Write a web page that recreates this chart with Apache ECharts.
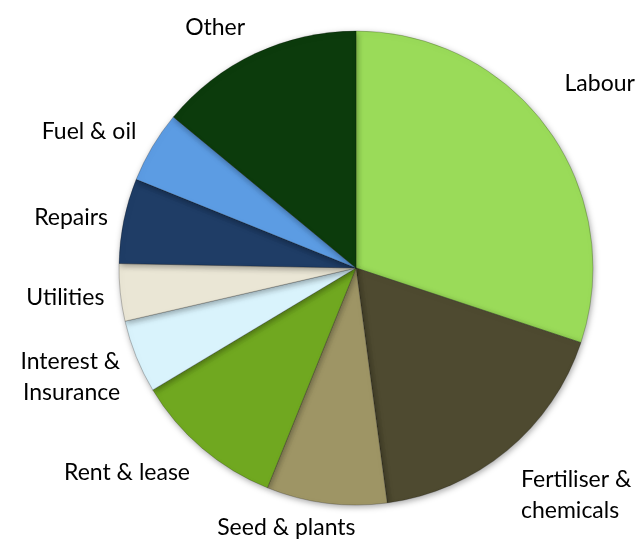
<!DOCTYPE html>
<html>
<head>
<meta charset="utf-8">
<script src="https://cdn.jsdelivr.net/npm/echarts@6/dist/echarts.min.js"></script>
<style>
  html, body { margin: 0; padding: 0; background: #fff; }
  #chart { width: 640px; height: 541px; }
</style>
</head>
<body>
<div id="chart"></div>
<script>
// cost categories, clockwise from 12 o'clock
const names = ['Labour', 'Fertiliser &\nchemicals', 'Seed & plants', 'Rent & lease',
  'Interest &\nInsurance', 'Utilities', 'Repairs', 'Fuel & oil', 'Other']
// share of costs (%)
const shares = [30.1, 17.8, 8.2, 10.3, 5.0, 3.9, 5.8, 4.9, 14.0]
const colors = ['#9ADB59', '#4E4A30', '#9E9565', '#70A820', '#D9F3FC',
  '#EAE6D5', '#1F3D66', '#5C9CE3', '#0C3B0C']

const chart = echarts.init(document.getElementById('chart'))

// nudge labels the way the original "best fit" placed them
const nudge = {
  0: { dx: 0, dy: -38 },
  1: { dx: 0, dy: 34 },
  2: { dx: 36, dy: 11 },
  3: { dx: 2, dy: 14 },
  4: { dx: 2, dy: 15 },
  5: { dx: 3, dy: 4 },
  6: { dx: 3, dy: 0 },
  7: { dx: 1, dy: -8 },
  8: { dx: 1, dy: -13 }
}

const option = {
  animation: false,
  series: [
    {
      type: 'pie',
      center: [356, 268],
      radius: 237,
      startAngle: 90,
      clockwise: true,
      avoidLabelOverlap: false,
      data: names.map((n, i) => ({
        name: n,
        value: shares[i],
        itemStyle: { color: colors[i] }
      })),
      itemStyle: {
        borderColor: 'rgba(0,0,0,0.22)',
        borderWidth: 1,
        shadowColor: 'rgba(0,0,0,0.35)',
        shadowBlur: 6,
        shadowOffsetX: 1,
        shadowOffsetY: 2
      },
      label: {
        show: true,
        position: 'outside',
        formatter: '{b}',
        fontFamily: 'Lato',
        fontSize: 23,
        color: '#000',
        lineHeight: 31,
        distanceToLabelLine: 5
      },
      labelLine: {
        show: false,
        length: 14,
        length2: 0
      },
      labelLayout: (params) => nudge[params.dataIndex] || {},
      emphasis: { disabled: true }
    }
  ]
}

chart.setOption(option)
</script>
</body>
</html>
